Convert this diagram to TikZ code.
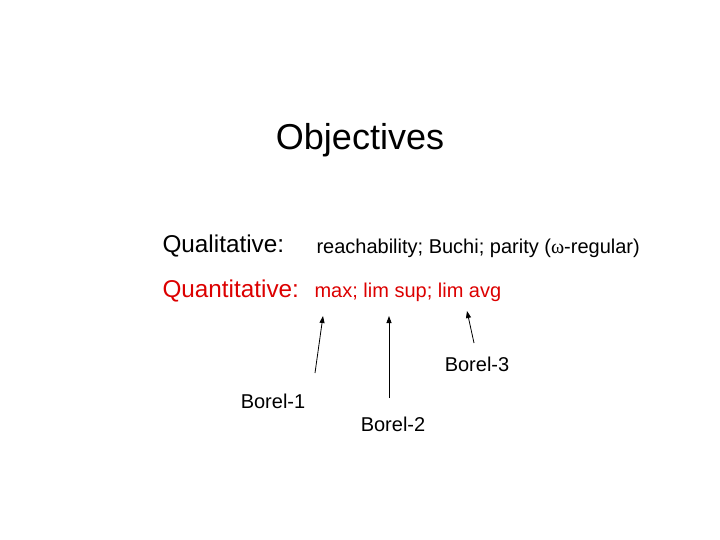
\documentclass[tikz,border=0pt]{standalone}
\usepackage{fontspec}
\setmainfont{Liberation Sans}
\newfontfamily\greekserif{Liberation Serif}
\usetikzlibrary{arrows.meta}
\definecolor{quantred}{RGB}{220,0,0}
\tikzset{
    heading/.style={font=\fontsize{36}{40}\selectfont},
    kind/.style={anchor=west,font=\fontsize{24.3}{28}\selectfont},
    items/.style={anchor=west,font=\fontsize{20}{24}\selectfont},
    borel/.style={font=\fontsize{20}{24}\selectfont},
    pointer/.style={-{Triangle[length=7pt,width=5pt]},line width=0.8pt}
}
\begin{document}
\begin{tikzpicture}[x=1pt,y=-1pt]
    \useasboundingbox (0,0) rectangle (720,540);

    % Title.
    \node[heading] (title) at (360,140) {Objectives};

    % The two kinds of objectives.
    \node[kind] (qual) at (159,246) {Qualitative:};
    \node[items] (qualitems) at (313,248) {reachability; Buchi; parity ({\greekserif ω}-regular)};
    \node[kind,text=quantred] (quant) at (159,291) {Quantitative:};
    \node[items,text=quantred] (quantitems) at (311,292) {max; lim sup; lim avg};

    % Borel levels.
    \node[borel] (b1) at (273,401) {Borel-1};
    \node[borel] (b2) at (393,424) {Borel-2};
    \node[borel] (b3) at (477,364) {Borel-3};
    \coordinate (t1) at (323,316);
    \coordinate (t2) at (389,316);
    \coordinate (t3) at (467,311);
    \coordinate (s1) at (315,373);
    \coordinate (s2) at (389,398);
    \coordinate (s3) at (474,343);
    \draw[pointer] (s1) -- (t1);
    \draw[pointer] (s2) -- (t2);
    \draw[pointer] (s3) -- (t3);
\end{tikzpicture}
\end{document}
